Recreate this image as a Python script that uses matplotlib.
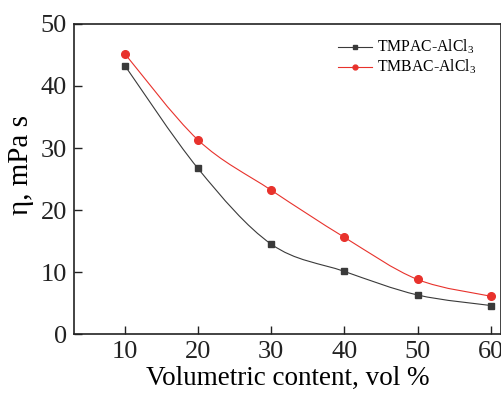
import numpy as np
import matplotlib
matplotlib.use("Agg")
import matplotlib.pyplot as plt
from matplotlib.path import Path
from matplotlib.patches import PathPatch

# -------------------------------
# Data
# -------------------------------
vol = [10, 20, 30, 40, 50, 60]
tmpac = [43.3, 26.7, 14.5, 10.1, 6.3, 4.6]
tmbac = [45.2, 31.3, 23.2, 15.6, 8.8, 6.1]

plt.rcParams["font.family"] = "serif"
plt.rcParams["font.serif"] = ["Liberation Serif", "DejaVu Serif"]
plt.rcParams["mathtext.fontset"] = "custom"
plt.rcParams["mathtext.rm"] = "Liberation Serif"
plt.rcParams["mathtext.it"] = "Liberation Serif:italic"


def smooth_path(xs, ys, t=1 / 6):
    # Catmull-Rom style bezier through the data points
    xs = np.asarray(xs, float)
    ys = np.asarray(ys, float)
    verts = [(xs[0], ys[0])]
    codes = [Path.MOVETO]
    n = len(xs)
    for i in range(n - 1):
        p0 = i - 1 if i > 0 else i
        p3 = i + 2 if i + 2 < n else i + 1
        c1 = (xs[i] + (xs[i + 1] - xs[p0]) * t, ys[i] + (ys[i + 1] - ys[p0]) * t)
        c2 = (xs[i + 1] - (xs[p3] - xs[i]) * t, ys[i + 1] - (ys[p3] - ys[i]) * t)
        verts += [c1, c2, (xs[i + 1], ys[i + 1])]
        codes += [Path.CURVE4] * 3
    return Path(verts, codes)


fig = plt.figure(figsize=(5.02, 3.93), dpi=100)
ax = fig.add_axes([0.147, 0.150, 0.851, 0.789])

black = "#3a3a3a"
red = "#e8322c"

ax.add_patch(PathPatch(smooth_path(vol, tmpac), facecolor="none", edgecolor=black, lw=0.8))
ax.add_patch(PathPatch(smooth_path(vol, tmbac), facecolor="none", edgecolor=red, lw=0.8))
ax.plot(vol, tmpac, ls="none", marker="s", ms=5, color=black)
ax.plot(vol, tmbac, ls="none", marker="o", ms=5.5, color=red)

# legend handles
ax.plot([], [], color=black, lw=0.8, marker="s", ms=3.5, label="TMPAC-AlCl$_3$")
ax.plot([], [], color=red, lw=0.8, marker="o", ms=3.5, label="TMBAC-AlCl$_3$")
ax.legend(loc="upper right", bbox_to_anchor=(0.975, 1.0), frameon=False,
          fontsize=11.3, handlelength=2.2, handletextpad=0.3, labelspacing=0.1)

ax.set_xlim(3.03, 61.4)
ax.set_ylim(0, 50)
ax.set_xticks(vol)
ax.set_yticks([0, 10, 20, 30, 40, 50])
ax.tick_params(direction="in", length=6, width=1, labelsize=19, colors="#222222")
ax.tick_params(axis="x", pad=5)
ax.tick_params(axis="y", pad=5)
for s in ax.spines.values():
    s.set_linewidth(1.2)
    s.set_color("#222222")

ax.set_xlabel("Volumetric content, vol %", fontsize=19.5, labelpad=2)
ax.set_ylabel("η, mPa s", fontsize=21)
ax.yaxis.set_label_coords(-0.094, 0.545)

plt.savefig("out.png", dpi=100)
